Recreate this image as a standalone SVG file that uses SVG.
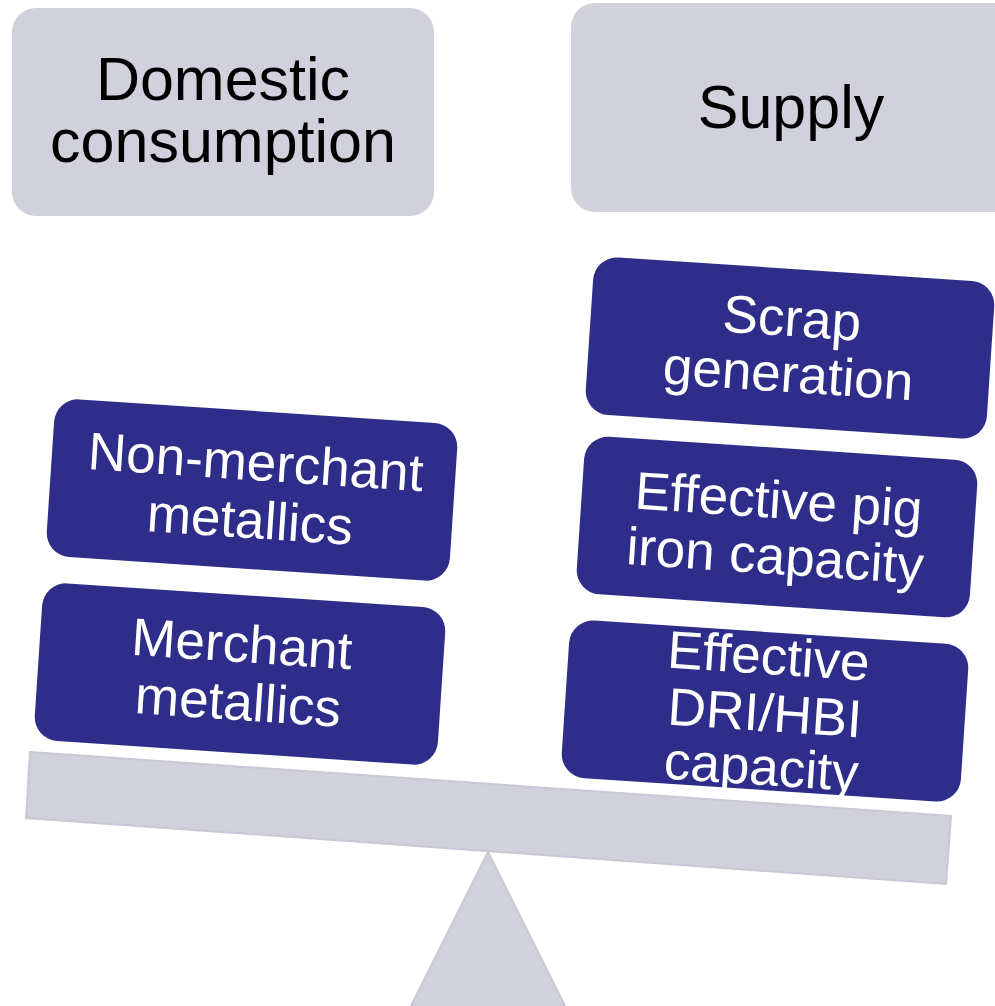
<svg xmlns="http://www.w3.org/2000/svg" width="995" height="1006" viewBox="0 0 995 1006">
<style>
.hdr{fill:#d1d1dd}
.hdrt{font-family:"Liberation Sans",Arial,sans-serif;font-size:61px;fill:#000;text-anchor:middle}
.blk{fill:#2e2e8a}
.blkt{font-family:"Liberation Sans",Arial,sans-serif;font-size:53px;fill:#fff;text-anchor:middle}
.scale{fill:#d1d1dd;stroke:#c8c8d6;stroke-width:2}
</style>
<rect width="995" height="1006" fill="#fff"/>
<g id="fulcrum"><polygon class="scale" points="488,852 410,1008 566,1008"/></g>
<g id="beam"><polygon class="scale" points="30,752 951,816 946,884 26,818"/></g>
<g id="domestic-consumption">
<rect class="hdr" x="12" y="8" width="422" height="208" rx="24"/>
<text class="hdrt" x="223" y="100">Domestic</text>
<text class="hdrt" x="223" y="162">consumption</text>
</g>
<g id="supply">
<rect class="hdr" x="571" y="3" width="450" height="209" rx="24"/>
<text class="hdrt" x="791" y="128">Supply</text>
</g>
<g id="non-merchant-metallics" transform="rotate(3.8 252 490)">
<rect class="blk" x="50" y="411" width="404" height="158" rx="24"/>
<text class="blkt" x="254" y="480">Non-merchant</text>
<text class="blkt" x="252" y="538">metallics</text>
</g>
<g id="merchant-metallics" transform="rotate(3.8 240 674)">
<rect class="blk" x="38" y="595" width="404" height="158" rx="24"/>
<text class="blkt" x="240" y="662">Merchant</text>
<text class="blkt" x="240" y="720">metallics</text>
</g>
<g id="scrap-generation" transform="rotate(3.8 790 348)">
<rect class="blk" x="589" y="269" width="402" height="158" rx="24"/>
<text class="blkt" x="790" y="336">Scrap</text>
<text class="blkt" x="790" y="392">generation</text>
</g>
<g id="effective-pig-iron-capacity" transform="rotate(3.8 777 527)">
<rect class="blk" x="580" y="448" width="394" height="158" rx="24"/>
<text class="blkt" x="777" y="518">Effective pig</text>
<text class="blkt" x="777" y="574">iron capacity</text>
</g>
<g id="effective-dri-hbi-capacity" transform="rotate(3.8 765 711)">
<rect class="blk" x="565" y="632" width="400" height="158" rx="24"/>
<text class="blkt" x="765" y="674">Effective</text>
<text class="blkt" x="765" y="731">DRI/HBI</text>
<text class="blkt" x="765" y="785">capacity</text>
</g>
</svg>
